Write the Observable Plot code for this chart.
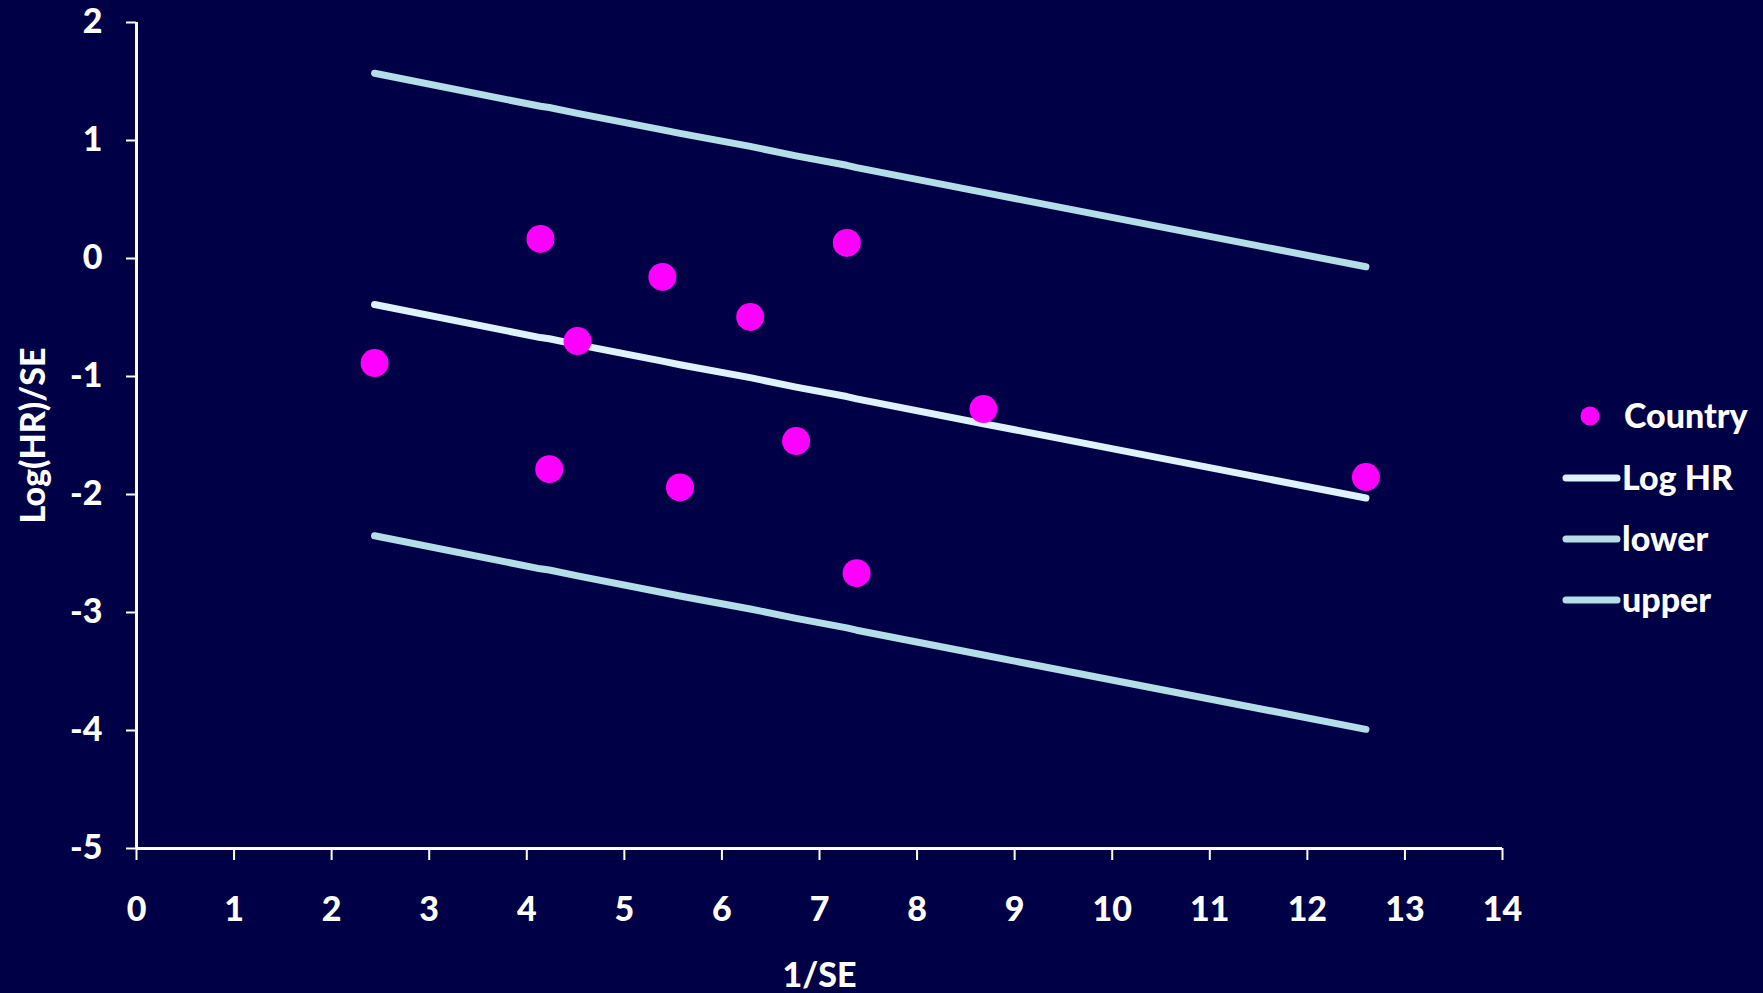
<!DOCTYPE html>
<html>
<head>
<meta charset="utf-8">
<script src="https://cdn.jsdelivr.net/npm/d3@7"></script>
<script src="https://cdn.jsdelivr.net/npm/@observablehq/plot@0.6"></script>
<style>
  html, body { margin: 0; padding: 0; background: #000046; }
  #chart { position: relative; width: 1763px; height: 993px; }
</style>
</head>
<body>
<div id="chart"></div>
<script>
// 1/SE for each country (x) and Log(HR)/SE (y)
const invSE = [2.44, 4.14, 4.23, 4.52, 5.39, 5.57, 6.29, 6.76, 7.28, 7.38, 8.68, 12.6];
const countryY = [-0.886, 0.166, -1.785, -0.70, -0.156, -1.94, -0.495, -1.547, 0.132, -2.667, -1.276, -1.852];
// Regression line and its limits, read at the same x positions
const logHR = [-0.39, -0.67, -0.68, -0.73, -0.87, -0.90, -1.01, -1.09, -1.17, -1.19, -1.40, -2.03];
const upper = [1.57, 1.29, 1.28, 1.23, 1.09, 1.06, 0.95, 0.87, 0.79, 0.77, 0.56, -0.07];
const lower = [-2.35, -2.63, -2.64, -2.69, -2.83, -2.86, -2.97, -3.05, -3.13, -3.15, -3.36, -3.99];
const xTicks = [0,1,2,3,4,5,6,7,8,9,10,11,12,13,14];
const yTicks = [-5,-4,-3,-2,-1,0,1,2];
const seriesNames = ["Country", "Log HR", "lower", "upper"];

const bg = "#000046";
const magenta = "#FF00FF";
const logColor = "#DDF2FB";
const limColor = "#B3DDE7";
const font = "Lato, 'Open Sans', sans-serif";

const pts = invSE.map((x, i) => ({x, y: countryY[i]}));
const lineRows = (vals) => invSE.map((x, i) => ({x, y: vals[i]}));

const plot = Plot.plot({
  width: 1763,
  height: 993,
  marginLeft: 136,
  marginRight: 261,
  marginTop: 22,
  marginBottom: 145,
  style: {background: bg, color: "white", fontFamily: font, fontSize: "34px", fontWeight: "900"},
  x: {domain: [0, 14]},
  y: {domain: [-5, 2]},
  marks: [
    Plot.line(lineRows(upper), {x: "x", y: "y", stroke: limColor, strokeWidth: 7, strokeLinecap: "round"}),
    Plot.line(lineRows(lower), {x: "x", y: "y", stroke: limColor, strokeWidth: 7, strokeLinecap: "round"}),
    Plot.line(lineRows(logHR), {x: "x", y: "y", stroke: logColor, strokeWidth: 7, strokeLinecap: "round"}),
    Plot.dot(pts, {x: "x", y: "y", r: 14, fill: magenta, stroke: "none"}),
    Plot.ruleX([0], {y1: -5, y2: 2, stroke: "white", strokeWidth: 3}),
    Plot.ruleY([-5], {x1: 0, x2: 14, stroke: "white", strokeWidth: 3}),
    Plot.axisX({ticks: xTicks, tickFormat: d => String(d), tickSize: 12, tickPadding: 36, stroke: "white", strokeWidth: 2,
      label: "1/SE", labelAnchor: "center", labelArrow: "none", labelOffset: 138}),
    Plot.axisY({ticks: yTicks, tickFormat: d => d < 0 ? "-" + Math.abs(d) : String(d), tickSize: 10, tickPadding: 24, stroke: "white", strokeWidth: 2,
      label: "Log(HR)/SE", labelAnchor: "center", labelArrow: "none", labelOffset: 116})
  ]
});

// Legend, drawn into the same SVG
const svg = d3.select(plot);
const lg = svg.append("g").attr("font-family", font).attr("font-size", 34).attr("font-weight", 900)
  .attr("fill", "white").attr("text-anchor", "start");
const rowsY = [416, 478, 539, 600];
seriesNames.forEach((name, i) => {
  const y = rowsY[i];
  if (i === 0) {
    lg.append("circle").attr("cx", 1590).attr("cy", y).attr("r", 9.5).attr("fill", magenta);
  } else {
    lg.append("line").attr("x1", 1566).attr("x2", 1617).attr("y1", y).attr("y2", y)
      .attr("stroke", i === 1 ? logColor : limColor).attr("stroke-width", 7).attr("stroke-linecap", "round");
  }
  lg.append("text").attr("x", i === 0 ? 1624 : 1622).attr("y", y).attr("dy", "0.36em").attr("text-anchor", "start").text(name);
});

document.getElementById("chart").appendChild(plot);
</script>
</body>
</html>
